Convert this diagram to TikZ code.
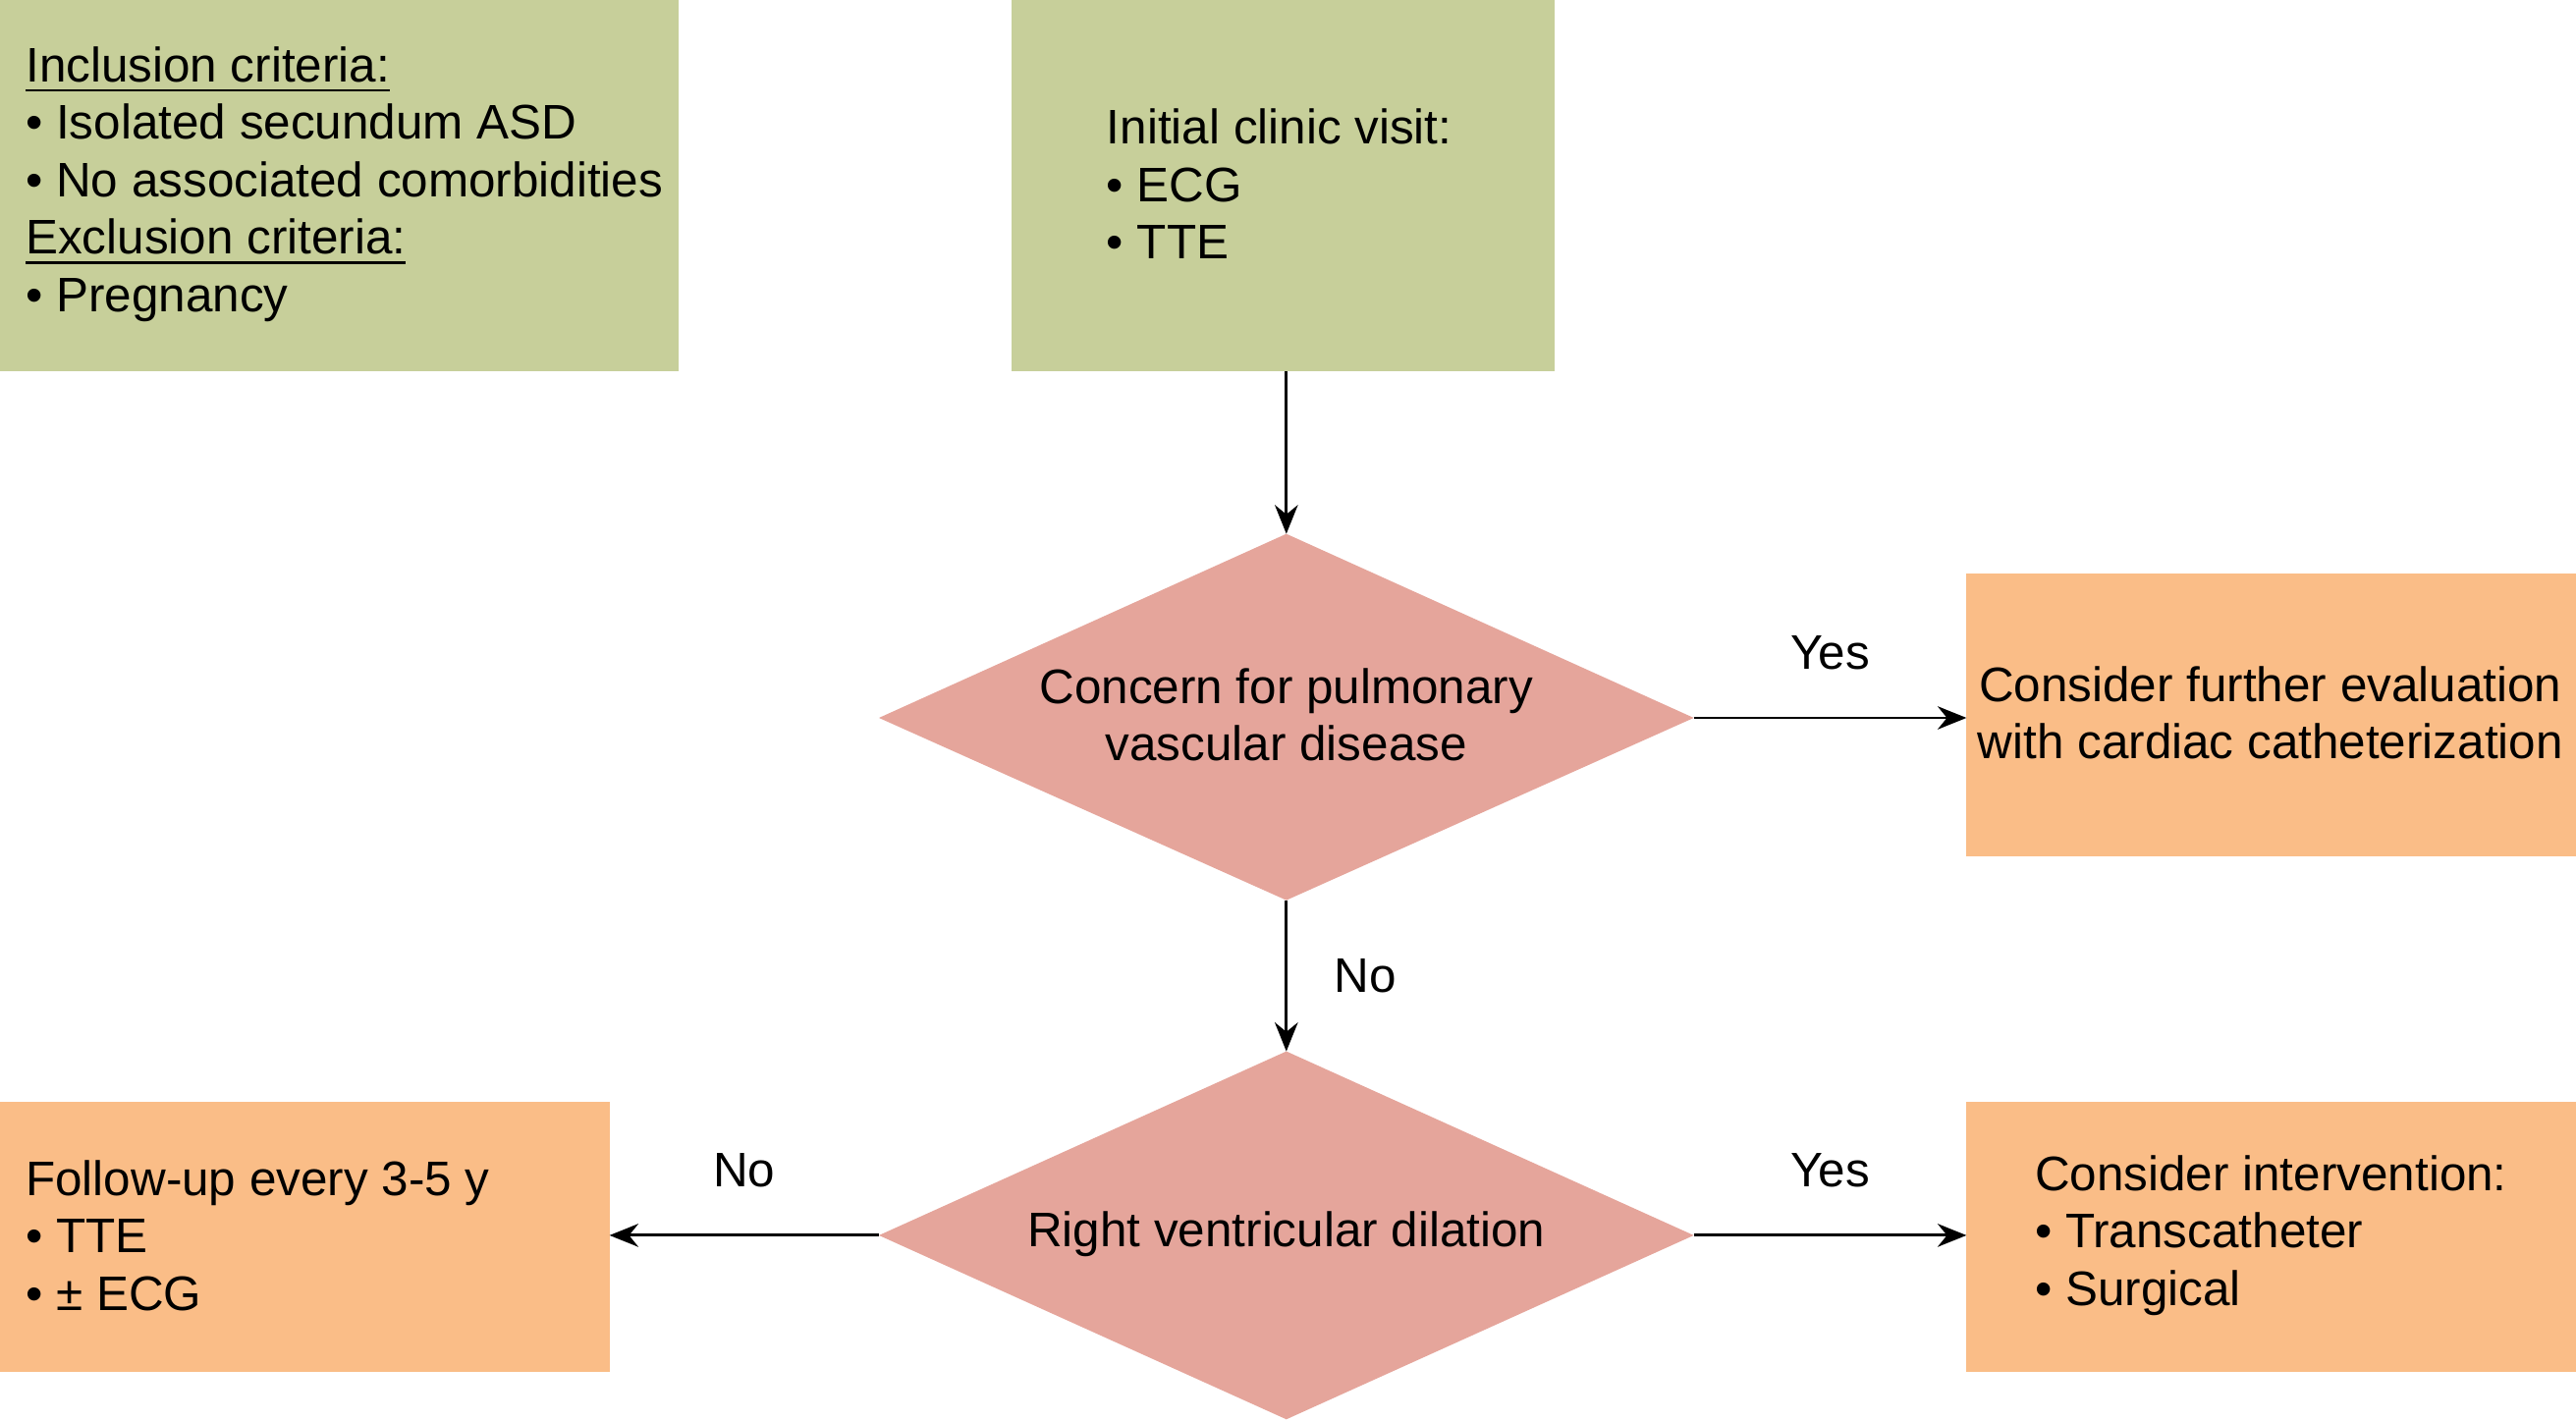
\documentclass[tikz,border=0pt]{standalone}
\usepackage{fontspec}
\setmainfont{Liberation Sans}
\usetikzlibrary{arrows.meta}
\definecolor{gr}{HTML}{C7CF9A}
\definecolor{orn}{HTML}{FABD87}
\definecolor{pk}{HTML}{E5A59B}
\tikzset{
 txt/.style={inner sep=0pt,align=left,font=\fontsize{8.4}{9.95}\selectfont},
 ctxt/.style={inner sep=0pt,align=center,font=\fontsize{8.4}{9.95}\selectfont},
 arr/.style={draw=black,line width=0.5pt,-{Stealth[length=5pt,width=4pt]}},
 lbl/.style={inner sep=0pt,font=\fontsize{8.4}{9.95}\selectfont}
}
\begin{document}
\begin{tikzpicture}[x=0.01cm,y=-0.01cm]
\useasboundingbox (0,0) rectangle (1568,865);
% boxes
\fill[gr] (0,0) rectangle (413,226);
\fill[gr] (616,0) rectangle (946,226);
\fill[orn] (1197,349) rectangle (1568,521);
\fill[orn] (0,671) rectangle (371,835);
\fill[orn] (1197,671) rectangle (1568,835);
% diamonds
\fill[pk] (535,437) -- (783,325) -- (1031,437) -- (783,548) -- cycle;
\fill[pk] (535,752) -- (783,640) -- (1031,752) -- (783,864) -- cycle;
% coordinates
\coordinate (b2b) at (783,226);
\coordinate (d1t) at (783,325);
\coordinate (d1r) at (1031,437);
\coordinate (d1b) at (783,548);
\coordinate (b3l) at (1197,437);
\coordinate (d2t) at (783,640);
\coordinate (d2l) at (535,752);
\coordinate (d2r) at (1031,752);
\coordinate (b4r) at (371,752);
\coordinate (b5l) at (1197,752);
% texts
\node[txt,anchor=west] (t1) at (15,112) {\underline{Inclusion criteria:}\\ • Isolated secundum ASD\\ • No associated comorbidities\\ \underline{Exclusion criteria:}\\ • Pregnancy};
\node[txt,anchor=west] (t2) at (673,112) {Initial clinic visit:\\ • ECG\\ • TTE};
\node[ctxt] (t3) at (783,435) {Concern for pulmonary\\ vascular disease};
\node[ctxt] (t4) at (1382,434) {Consider further evaluation\\ with cardiac catheterization};
\node[ctxt] (t5) at (783,751) {Right ventricular dilation};
\node[txt,anchor=west] (t6) at (15,752) {Follow-up every 3-5 y\\ • TTE\\ • ± ECG};
\node[txt,anchor=west] (t7) at (1238,752) {Consider intervention:\\ • Transcatheter\\ • Surgical};
% arrows
\draw[arr] (b2b) -- (d1t);
\draw[arr] (d1r) -- node[lbl,above=8pt] (y1) {Yes} (b3l);
\draw[arr] (d1b) -- node[lbl,right=8pt] (n1) {No} (d2t);
\draw[arr] (d2l) -- node[lbl,above=8pt] (n2) {No} (b4r);
\draw[arr] (d2r) -- node[lbl,above=8pt] (y2) {Yes} (b5l);
\end{tikzpicture}
\end{document}
